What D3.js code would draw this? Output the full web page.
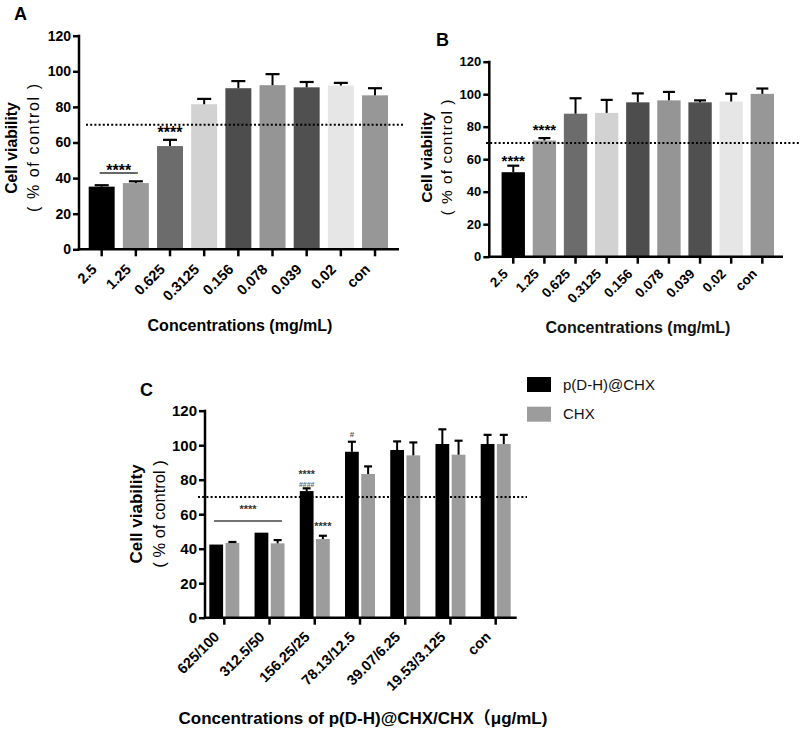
<!DOCTYPE html>
<html><head><meta charset="utf-8">
<script src="https://cdn.jsdelivr.net/npm/d3@7"></script>
<style>
body{margin:0;background:#fff;}
svg{display:block;font-family:"Liberation Sans",Arial,"Noto Sans CJK SC",sans-serif;}
</style></head>
<body>
<svg id="chart" width="800" height="730"></svg>
<script>
// ---------- DATA ----------
const concAB = ["2.5","1.25","0.625","0.3125","0.156","0.078","0.039","0.02","con"];
const meanA = [35.2, 37.2, 58.0, 81.5, 90.5, 92.2, 91.0, 92.0, 86.5];
const errA  = [0.8, 1.0, 3.5, 3.0, 4.0, 6.2, 3.0, 1.5, 4.0];
const meanB = [52.0, 71.5, 88.0, 88.5, 95.0, 96.2, 95.0, 95.5, 100.2];
const errB  = [4.0, 1.5, 9.5, 8.0, 5.5, 5.2, 1.2, 4.8, 3.3];
const concC = ["625/100","312.5/50","156.25/25","78.13/12.5","39.07/6.25","19.53/3.125","con"];
const seriesC = ["p(D-H)@CHX","CHX"];
const meanC1 = [42.4, 49.3, 73.4, 96.2, 97.2, 100.7, 100.7];
const errC1  = [0.0, 0.0, 1.6, 5.8, 5.0, 8.5, 5.3];
const meanC2 = [43.4, 43.1, 45.6, 83.3, 94.1, 94.5, 100.7];
const errC2  = [0.5, 1.9, 1.9, 4.4, 7.5, 8.1, 5.3];
const yTicks = [0, 20, 40, 60, 80, 100, 120];
const threshold = 70;

// ---------- STYLE ----------
const paletteAB = ["#000000","#9a9a9a","#6c6c6c","#d2d2d2","#4d4d4d","#959595","#505050","#e6e6e6","#979797"];
const colorC = ["#000000","#9c9c9c"];

const svg = d3.select("#chart");

function axes(g, x, y, xLeft, xRight, tickFs, xLabFs, labOff){
  const yAx = g.append("g").attr("transform",`translate(${xLeft},0)`)
    .call(d3.axisLeft(y).tickValues(yTicks).tickSize(6).tickPadding(2).tickFormat(d3.format("d")));
  yAx.select(".domain").remove();
  yAx.selectAll("line").attr("stroke","#000").attr("stroke-width",2.5);
  yAx.selectAll("text").attr("font-size",tickFs).attr("font-weight","bold").attr("fill","#000")
     .attr("font-family",'"Liberation Sans",Arial,sans-serif');
  const y0 = y(0);
  const xAx = g.append("g").attr("transform",`translate(0,${y0})`)
    .call(d3.axisBottom(x).tickSize(7).tickSizeOuter(0));
  xAx.select(".domain").remove();
  xAx.selectAll("line").attr("stroke","#000").attr("stroke-width",2.5);
  xAx.selectAll("text").attr("font-size",xLabFs).attr("font-weight","bold").attr("fill","#000")
     .attr("font-family",'"Liberation Sans",Arial,sans-serif')
     .attr("text-anchor","end").attr("dy",0).attr("y",0)
     .attr("transform",`translate(${labOff[0]},${labOff[1]}) rotate(-45)`);
  g.append("line").attr("x1",xLeft).attr("x2",xLeft).attr("y1",y(120)-1).attr("y2",y0+1.2)
    .attr("stroke","#000").attr("stroke-width",2.5);
  g.append("line").attr("x1",xLeft-1.2).attr("x2",xRight).attr("y1",y0).attr("y2",y0)
    .attr("stroke","#000").attr("stroke-width",2.5);
}

function errBars(g, xs, ys, errs, capW){
  xs.forEach((cx,i)=>{
    if(errs[i] <= 0) return;
    g.append("line").attr("x1",cx).attr("x2",cx).attr("y1",ys[i][0]).attr("y2",ys[i][1])
      .attr("stroke","#000").attr("stroke-width",2);
    g.append("line").attr("x1",cx-capW/2).attr("x2",cx+capW/2).attr("y1",ys[i][1]).attr("y2",ys[i][1])
      .attr("stroke","#000").attr("stroke-width",2.2);
  });
}

function ylabel(g, cx1, cx2, cy, fs1, fs2, len2){
  g.append("text").attr("transform",`translate(${cx1},${cy}) rotate(-90)`)
    .attr("text-anchor","middle").attr("font-size",fs1).attr("font-weight","bold").text("Cell viability");
  const t = g.append("text").attr("transform",`translate(${cx2},${cy}) rotate(-90)`)
    .attr("text-anchor","middle").attr("font-size",fs2).text("( % of control )");
  if(len2) t.attr("textLength",len2).attr("lengthAdjust","spacing");
}

function dotted(g, x1, x2, yv){
  g.append("line").attr("x1",x1).attr("x2",x2).attr("y1",yv).attr("y2",yv)
    .attr("stroke","#000").attr("stroke-width",2).attr("stroke-dasharray","2,2.2");
}

// ---------- PANEL A ----------
(function(){
  const g = svg.append("g");
  const x = d3.scaleBand().domain(concAB).range([84.6, 392.1]).paddingInner(0.24).paddingOuter(0.12);
  const y = d3.scaleLinear().domain([0,120]).range([249.3, 35.7]);
  g.selectAll("rect.bar").data(concAB).join("rect").attr("class","bar")
    .attr("x",d=>x(d)).attr("width",x.bandwidth())
    .attr("y",(d,i)=>y(meanA[i])).attr("height",(d,i)=>y(0)-y(meanA[i]))
    .attr("fill",(d,i)=>paletteAB[i]);
  errBars(g, concAB.map(d=>x(d)+x.bandwidth()/2), meanA.map((m,i)=>[y(m), y(m+errA[i])]), errA, 14);
  dotted(g, 86, 404, y(threshold));
  axes(g, x, y, 79, 399, 14, 14.5, [-4, 21]);
  const c0 = x(concAB[0])+x.bandwidth()/2, c1 = x(concAB[1])+x.bandwidth()/2;
  g.append("line").attr("x1",c0-2).attr("x2",c1+2).attr("y1",173).attr("y2",173).attr("stroke","#333").attr("stroke-width",1.5);
  g.append("text").attr("x",(c0+c1)/2).attr("y",176).attr("text-anchor","middle").attr("font-size",16).attr("font-weight","bold").text("****");
  g.append("text").attr("x",x(concAB[2])+x.bandwidth()/2).attr("y",138).attr("text-anchor","middle").attr("font-size",16).attr("font-weight","bold").text("****");
  ylabel(g, 17, 39, 148, 15.7, 16, 128);
  g.append("text").attr("x",240).attr("y",331).attr("text-anchor","middle").attr("font-size",16).attr("font-weight","bold").text("Concentrations (mg/mL)");
  g.append("text").attr("x",14).attr("y",20).attr("font-size",18).attr("font-weight","bold").text("A");
})();

// ---------- PANEL B ----------
(function(){
  const g = svg.append("g");
  const x = d3.scaleBand().domain(concAB).range([497.7, 777.9]).paddingInner(0.25).paddingOuter(0.125);
  const y = d3.scaleLinear().domain([0,120]).range([256.7, 61.7]);
  g.selectAll("rect.bar").data(concAB).join("rect").attr("class","bar")
    .attr("x",d=>x(d)).attr("width",x.bandwidth())
    .attr("y",(d,i)=>y(meanB[i])).attr("height",(d,i)=>y(0)-y(meanB[i]))
    .attr("fill",(d,i)=>paletteAB[i]);
  errBars(g, concAB.map(d=>x(d)+x.bandwidth()/2), meanB.map((m,i)=>[y(m), y(m+errB[i])]), errB, 12);
  dotted(g, 486, 800, y(threshold));
  axes(g, x, y, 489.3, 783, 13, 13.5, [-4.5, 18]);
  g.append("text").attr("x",x(concAB[0])+x.bandwidth()/2).attr("y",166).attr("text-anchor","middle").attr("font-size",15).attr("font-weight","bold").text("****");
  g.append("text").attr("x",x(concAB[1])+x.bandwidth()/2).attr("y",135).attr("text-anchor","middle").attr("font-size",15).attr("font-weight","bold").text("****");
  ylabel(g, 432, 452, 157.5, 15.5, 15.5, 116);
  g.append("text").attr("x",638).attr("y",333).attr("text-anchor","middle").attr("font-size",16).attr("font-weight","bold").attr("fill","#111").text("Concentrations (mg/mL)");
  g.append("text").attr("x",436).attr("y",46).attr("font-size",18).attr("font-weight","bold").text("B");
})();

// ---------- PANEL C ----------
(function(){
  const g = svg.append("g");
  const x = d3.scaleBand().domain(concC).range([201.7, 518.3]).paddingInner(0.337).paddingOuter(0.1685);
  const xs = d3.scaleBand().domain(seriesC).range([0, x.bandwidth()]).paddingInner(0.15);
  const y = d3.scaleLinear().domain([0,120]).range([617.7, 410.7]);
  const series = [meanC1, meanC2], errs = [errC1, errC2];
  seriesC.forEach((s,k)=>{
    g.selectAll("rect.s"+k).data(concC).join("rect").attr("class","s"+k)
      .attr("x",d=>x(d)+xs(s)).attr("width",xs.bandwidth())
      .attr("y",(d,i)=>y(series[k][i])).attr("height",(d,i)=>y(0)-y(series[k][i]))
      .attr("fill",colorC[k]);
  });
  seriesC.forEach((s,k)=>{
    errBars(g, concC.map(d=>x(d)+xs(s)+xs.bandwidth()/2), series[k].map((m,i)=>[y(m), y(m+errs[k][i])]), errs[k], 8);
  });
  dotted(g, 198, 527, y(threshold));
  axes(g, x, y, 205, 516.7, 15, 14.5, [-4, 20]);
  g.append("line").attr("x1",214).attr("x2",282).attr("y1",521).attr("y2",521).attr("stroke","#444").attr("stroke-width",1.5);
  g.append("text").attr("x",248).attr("y",513).attr("text-anchor","middle").attr("font-size",11).attr("font-weight","bold").attr("fill","#333").text("****");
  const bx3 = x(concC[2])+xs(seriesC[0])+xs.bandwidth()/2;
  const gx3 = x(concC[2])+xs(seriesC[1])+xs.bandwidth()/2;
  const bx4 = x(concC[3])+xs(seriesC[0])+xs.bandwidth()/2;
  g.append("text").attr("x",bx3).attr("y",478).attr("text-anchor","middle").attr("font-size",10.5).attr("font-weight","bold").attr("fill","#333").text("****");
  g.append("text").attr("x",bx3).attr("y",487).attr("text-anchor","middle").attr("font-size",7).attr("font-weight","bold").attr("fill","#666").text("####");
  g.append("text").attr("x",gx3).attr("y",530).attr("text-anchor","middle").attr("font-size",11).attr("font-weight","bold").attr("fill","#333").text("****");
  g.append("text").attr("x",bx4).attr("y",437).attr("text-anchor","middle").attr("font-size",8).attr("font-weight","bold").attr("fill","#555").text("#");
  ylabel(g, 142, 165, 514, 17, 16.5, null);
  g.append("text").attr("x",363).attr("y",724).attr("text-anchor","middle").attr("font-size",17).attr("font-weight","bold")
    .attr("font-family",'"Liberation Sans","Noto Sans CJK SC",sans-serif').text("Concentrations of p(D-H)@CHX/CHX（μg/mL)");
  g.append("text").attr("x",140).attr("y",396).attr("font-size",18).attr("font-weight","bold").text("C");
  const lg = g.append("g");
  seriesC.forEach((s,k)=>{
    lg.append("rect").attr("x",527).attr("y",377+k*29.7).attr("width",24).attr("height",15).attr("fill",colorC[k]);
    lg.append("text").attr("x",563).attr("y",390+k*29).attr("font-size",15).attr("fill","#111").text(s);
  });
})();
</script>
</body></html>
